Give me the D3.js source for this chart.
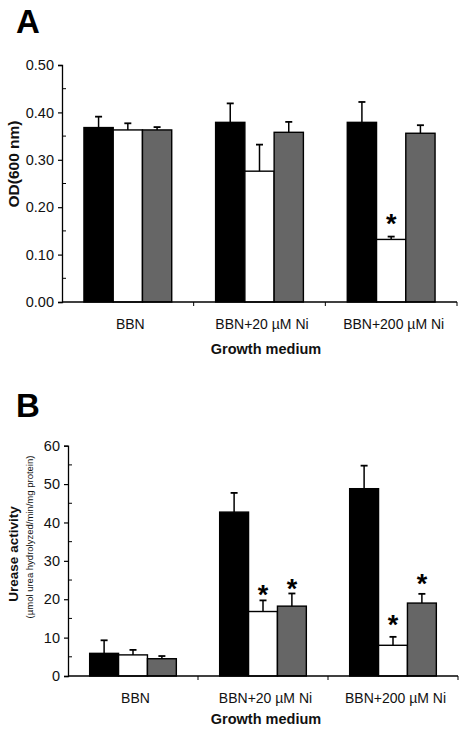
<!DOCTYPE html>
<html>
<head>
<meta charset="utf-8">
<script src="https://cdn.jsdelivr.net/npm/d3@7"></script>
<style>
  html, body { margin: 0; padding: 0; background: #fff; }
  svg { display: block; font-family: "Liberation Sans", Arial, sans-serif; }
</style>
</head>
<body>
<svg id="chart" width="462" height="731"></svg>
<script>
// ---- data ----
const categories = ["BBN", "BBN+20 µM Ni", "BBN+200 µM Ni"];
const seriesNames = ["s1", "s2", "s3"];
const seriesColors = ["#000000", "#ffffff", "#666666"];

// Panel A: OD(600 nm)
const odValues = [
  [0.368, 0.363, 0.363],
  [0.379, 0.276, 0.358],
  [0.379, 0.132, 0.356]
];
const odErrors = [
  [0.023, 0.014, 0.006],
  [0.040, 0.056, 0.022],
  [0.043, 0.006, 0.017]
];
const odStars = [
  [null, null, null],
  [null, null, null],
  [null, 0.180, null]
];
const odTicks = [0, 0.1, 0.2, 0.3, 0.4, 0.5];

// Panel B: urease activity
const ureaseValues = [
  [5.9, 5.5, 4.5],
  [42.7, 16.8, 18.2],
  [48.8, 8.0, 19.0]
];
const ureaseErrors = [
  [3.4, 1.3, 0.7],
  [5.0, 2.9, 3.3],
  [6.0, 2.2, 2.4]
];
const ureaseStars = [
  [null, null, null],
  [null, 22.9, 24.5],
  [null, 15.1, 25.9]
];
const ureaseTicks = [0, 10, 20, 30, 40, 50, 60];

const svg = d3.select("#chart");

function panel(cfg) {
  const g = svg.append("g");
  const x0 = d3.scaleBand().domain(categories).range([cfg.x0, cfg.x1]).padding(0);
  const x1 = d3.scaleBand().domain(seriesNames).range([0, x0.bandwidth()])
    .paddingInner(0).paddingOuter(0.75);
  const y = d3.scaleLinear().domain(cfg.domain).range([cfg.yBottom, cfg.yTop]);

  // bars
  categories.forEach((c, ci) => {
    seriesNames.forEach((s, si) => {
      const v = cfg.values[ci][si];
      g.append("rect")
        .attr("x", x0(c) + x1(s))
        .attr("y", y(v))
        .attr("width", x1.bandwidth())
        .attr("height", y(0) - y(v))
        .attr("fill", seriesColors[si])
        .attr("stroke", "#000")
        .attr("stroke-width", 1.4);
    });
  });

  // error bars
  categories.forEach((c, ci) => {
    seriesNames.forEach((s, si) => {
      const v = cfg.values[ci][si], e = cfg.errors[ci][si];
      const cx = x0(c) + x1(s) + x1.bandwidth() / 2;
      g.append("line").attr("x1", cx).attr("x2", cx)
        .attr("y1", y(v)).attr("y2", y(v + e))
        .attr("stroke", "#000").attr("stroke-width", 1.5);
      g.append("line").attr("x1", cx - 3.5).attr("x2", cx + 3.5)
        .attr("y1", y(v + e)).attr("y2", y(v + e))
        .attr("stroke", "#000").attr("stroke-width", 1.8);
      const st = cfg.stars[ci][si];
      if (st !== null) {
        g.append("text").attr("x", cx).attr("y", y(st) + 16)
          .attr("text-anchor", "middle")
          .attr("font-size", 27).attr("font-weight", "bold")
          .text("*");
      }
    });
  });

  // y axis (major ticks outside)
  const yAxis = d3.axisLeft(y).tickValues(cfg.ticks).tickFormat(cfg.fmt)
    .tickSize(4).tickPadding(4);
  const ya = g.append("g").attr("transform", `translate(${cfg.x0},0)`).call(yAxis);
  ya.select(".domain").attr("stroke-width", 1.3);
  ya.selectAll(".tick line").attr("stroke-width", 1.2);
  ya.selectAll("text").attr("font-size", 14.5).attr("fill", "#111")
    .attr("font-family", "'Liberation Sans', Arial, sans-serif");

  // minor ticks inside
  const minor = d3.range(cfg.ticks.length - 1).map(i => (cfg.ticks[i] + cfg.ticks[i + 1]) / 2);
  g.selectAll(".minor").data(minor).enter().append("line")
    .attr("x1", cfg.x0).attr("x2", cfg.x0 + 4)
    .attr("y1", d => y(d)).attr("y2", d => y(d))
    .attr("stroke", "#000").attr("stroke-width", 1);

  // x axis
  g.append("line").attr("x1", cfg.x0).attr("x2", cfg.x1)
    .attr("y1", y(0)).attr("y2", y(0))
    .attr("stroke", "#000").attr("stroke-width", 1.3);
  categories.forEach(c => {
    const bx = x0(c) + x0.bandwidth();
    g.append("line").attr("x1", bx).attr("x2", bx)
      .attr("y1", y(0)).attr("y2", y(0) + 4)
      .attr("stroke", "#000").attr("stroke-width", 1);
    g.append("text").attr("x", x0(c) + x0.bandwidth() / 2 + 2.5)
      .attr("y", y(0) + cfg.catDy)
      .attr("text-anchor", "middle").attr("font-size", 14).attr("fill", "#111")
      .text(c);
  });

  // axis title
  g.append("text").attr("x", 266).attr("y", cfg.titleY)
    .attr("text-anchor", "middle").attr("font-size", 14.5).attr("font-weight", "bold")
    .attr("fill", "#111")
    .text("Growth medium");

  // panel letter
  g.append("text").attr("x", 16).attr("y", cfg.letterY)
    .attr("font-size", 33).attr("font-weight", "bold")
    .text(cfg.letter);

  return { g, x0, y };
}

const pA = panel({
  x0: 62, x1: 457, yBottom: 302, yTop: 65, domain: [0, 0.5],
  values: odValues, errors: odErrors, stars: odStars, ticks: odTicks,
  fmt: d3.format(".2f"), catDy: 27, titleY: 354, letter: "A", letterY: 33
});
pA.g.append("text")
  .attr("transform", "translate(19,164) rotate(-90)")
  .attr("text-anchor", "middle").attr("font-size", 15.5).attr("font-weight", "bold")
  .attr("fill", "#111")
  .text("OD(600 nm)");

const pB = panel({
  x0: 68, x1: 458, yBottom: 676, yTop: 445.7, domain: [0, 60],
  values: ureaseValues, errors: ureaseErrors, stars: ureaseStars, ticks: ureaseTicks,
  fmt: d3.format("d"), catDy: 27, titleY: 724, letter: "B", letterY: 417
});
pB.g.append("text")
  .attr("transform", "translate(18,554) rotate(-90)")
  .attr("text-anchor", "middle").attr("font-size", 13.5).attr("font-weight", "bold")
  .attr("fill", "#111")
  .text("Urease activity");
pB.g.append("text")
  .attr("transform", "translate(33,537) rotate(-90)")
  .attr("text-anchor", "middle").attr("font-size", 9.5)
  .attr("fill", "#111")
  .text("(µmol urea hydrolyzed/min/mg protein)");
</script>
</body>
</html>
